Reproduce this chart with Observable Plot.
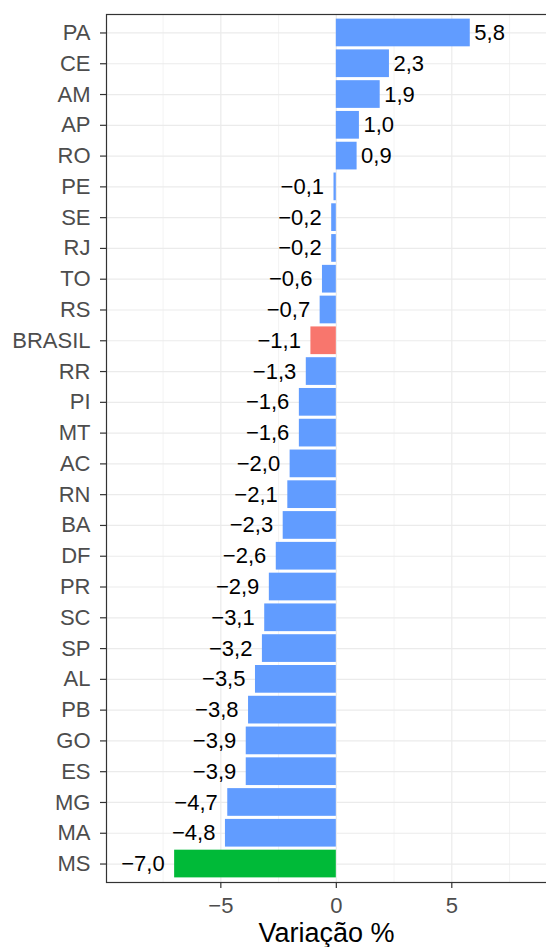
<!DOCTYPE html>
<html>
<head>
<meta charset="utf-8">
<script src="https://cdn.jsdelivr.net/npm/d3@7"></script>
<script src="https://cdn.jsdelivr.net/npm/@observablehq/plot@0.6"></script>
<style>
  html, body { margin: 0; padding: 0; background: white; overflow: hidden; }
  #chart svg { overflow: hidden; display: block; }
</style>
</head>
<body>
<div id="chart"></div>
<script>
const categories = ["PA","CE","AM","AP","RO","PE","SE","RJ","TO","RS","BRASIL","RR","PI","MT","AC","RN","BA","DF","PR","SC","SP","AL","PB","GO","ES","MG","MA","MS"];
const values = [5.8, 2.3, 1.9, 1.0, 0.9, -0.1, -0.2, -0.2, -0.6, -0.7, -1.1, -1.3, -1.6, -1.6, -2.0, -2.1, -2.3, -2.6, -2.9, -3.1, -3.2, -3.5, -3.8, -3.9, -3.9, -4.7, -4.8, -7.0];
const groups = ["uf","uf","uf","uf","uf","uf","uf","uf","uf","uf","brasil","uf","uf","uf","uf","uf","uf","uf","uf","uf","uf","uf","uf","uf","uf","uf","uf","min"];
const xTicks = [-5, 0, 5];
const xMinor = [-7.5, -2.5, 2.5, 7.5];
const xTitle = "Variação %";

const data = categories.map((c, i) => ({uf: c, v: values[i], g: groups[i]}));
const fmtTick = d => (d < 0 ? "\u2212" : "") + Math.abs(d);
const fmtVal = d => (d < 0 ? "\u2212" : "") + Math.abs(d).toFixed(1).replace(".", ",");

const chart = Plot.plot({
  width: 546,
  height: 947,
  marginLeft: 106,
  marginRight: 0,
  marginTop: 14,
  marginBottom: 65,
  style: {fontFamily: "'Liberation Sans', Arial, Helvetica, sans-serif", background: "white"},
  x: {domain: [-9.95, 9.1]},
  y: {domain: categories, paddingInner: 0.1, paddingOuter: 0.15, round: false},
  color: {domain: ["uf", "brasil", "min"], range: ["#619CFF", "#F8766D", "#00BA38"]},
  marks: [
    Plot.ruleX(xMinor, {stroke: "#EBEBEB", strokeWidth: 0.6}),
    Plot.ruleX(xTicks, {stroke: "#EBEBEB", strokeWidth: 1.2}),
    Plot.ruleY(categories, {y: d => d, stroke: "#EBEBEB", strokeWidth: 1.2}),
    Plot.barX(data, {x: "v", y: "uf", fill: "g"}),
    Plot.text(data.filter(d => d.v >= 0), {x: "v", y: "uf", text: d => fmtVal(d.v), textAnchor: "start", dx: 4, fontSize: 22, fill: "black"}),
    Plot.text(data.filter(d => d.v < 0), {x: "v", y: "uf", text: d => fmtVal(d.v), textAnchor: "end", dx: -10, fontSize: 22, fill: "black"}),
    Plot.frame({stroke: "#333333", strokeWidth: 1.2, insetRight: -6}),
    Plot.axisX({ticks: xTicks, tickFormat: fmtTick, tickSize: 6, tickPadding: 9, fontSize: 22, fill: "#4D4D4D", stroke: "#333333", strokeWidth: 1.2, label: null}),
    Plot.axisY({tickSize: 6, tickPadding: 10, fontSize: 22, fill: "#4D4D4D", stroke: "#333333", strokeWidth: 1.2, label: null}),
    Plot.text([xTitle], {frameAnchor: "bottom", lineAnchor: "middle", dy: 51, fontSize: 27, fill: "black"})
  ]
});
document.getElementById("chart").appendChild(chart);
</script>
</body>
</html>
